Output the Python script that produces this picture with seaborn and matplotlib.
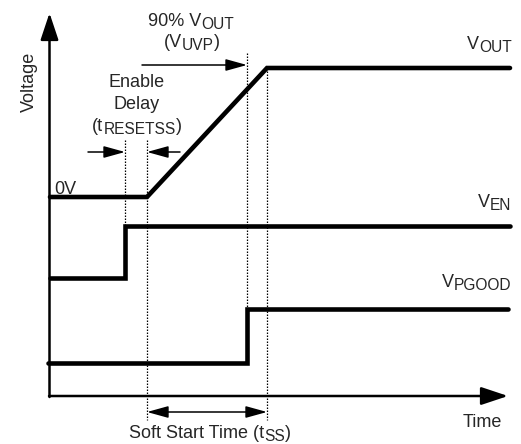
#Soft start timing diagram
#Recreates the VOUT / VEN / VPGOOD start-up sequence.

import matplotlib
matplotlib.use("Agg")
import matplotlib.pyplot as plt
import seaborn as sns

# Time marks (picture units, left to right)
t_start = 50
t_enable = 125
t_ramp = 147
t_pgood = 247
t_end_ramp = 267
t_stop = 510

# Signal levels (picture units, top = 0)
vout_time = [t_start, t_ramp, t_end_ramp, t_stop]
vout_level = [197, 197, 68, 68]
ven_time = [t_start, t_enable, t_enable, t_stop]
ven_level = [278, 278, 226, 226]
pgood_time = [48, t_pgood, t_pgood, 508]
pgood_level = [363, 363, 309, 309]

# Dotted guide lines: x, top, bottom
guide_x = [t_enable, t_ramp, t_pgood, t_end_ramp]
guide_top = [140, 140, 53, 68]
guide_bottom = [226, 420, 309, 420]

sns.set_style("white")
plt.rcParams['font.family'] = ['Liberation Sans', 'DejaVu Sans']

fig = plt.figure(figsize=(5.21, 4.44), dpi=100)
ax = fig.add_axes([0, 0, 1, 1])
ax.set_xlim(0, 521)
ax.set_ylim(444, 0)
ax.axis('off')

# Signals
for tt, vv in [(vout_time, vout_level), (ven_time, ven_level), (pgood_time, pgood_level)]:
    sns.lineplot(x=tt, y=vv, sort=False, estimator=None, color='black', linewidth=3.3,
                 solid_joinstyle='miter', solid_capstyle='round', ax=ax)

# Dotted guides
for gx, gt, gb in zip(guide_x, guide_top, guide_bottom):
    ax.plot([gx, gx], [gt, gb], color='black', linewidth=0.9, linestyle=(0, (1.2, 1.2)))

# Axes with arrowheads
axis_arrow = dict(arrowstyle='-|>,head_length=1.65,head_width=0.55', color='black',
                  linewidth=1.8, shrinkA=0, shrinkB=0)
ax.annotate('', xy=(49.5, 13), xytext=(49.5, 397), arrowprops=axis_arrow)
ax.annotate('', xy=(508, 396), xytext=(49, 396), arrowprops=axis_arrow)

# Dimension arrows
dim_arrow = dict(arrowstyle='-|>,head_length=1.3,head_width=0.36', color='black',
                 linewidth=1.1, shrinkA=0, shrinkB=0)
ax.annotate('', xy=(t_enable, 152), xytext=(88, 152), arrowprops=dim_arrow)
ax.annotate('', xy=(t_ramp, 152), xytext=(180, 152), arrowprops=dim_arrow)
ax.annotate('', xy=(t_pgood, 65), xytext=(142, 65), arrowprops=dim_arrow)
ax.annotate('', xy=(t_end_ramp, 412), xytext=(t_ramp, 412),
            arrowprops=dict(arrowstyle='<|-|>,head_length=1.3,head_width=0.36', color='black',
                            linewidth=1.1, shrinkA=0, shrinkB=0))

fs = 13
renderer = fig.canvas.get_renderer()


# text with lowered, slightly smaller subscripts; 1 data unit = 1 pixel here
def rich_text(x, y, parts, ha='center'):
    pieces = []
    for s, sub in parts:
        t = ax.text(0, y + (3 if sub else 0), s, fontsize=fs * (0.86 if sub else 1.0),
                    ha='left', va='baseline')
        pieces.append((t, t.get_window_extent(renderer).width))
    total = sum(w for _, w in pieces)
    if ha == 'center':
        x0 = x - total / 2
    elif ha == 'right':
        x0 = x - total
    else:
        x0 = x
    for t, w in pieces:
        t.set_x(x0)
        x0 += w


rich_text(191, 26, [('90% V', False), ('OUT', True)])
rich_text(192, 47, [('(V', False), ('UVP', True), (')', False)])
rich_text(137, 87, [('Enable', False)])
rich_text(137, 109, [('Delay', False)])
rich_text(137, 131, [('(t', False), ('RESETSS', True), (')', False)])
rich_text(54, 194, [('0V', False)], ha='left')
rich_text(512, 49, [('V', False), ('OUT', True)], ha='right')
rich_text(511, 207, [('V', False), ('EN', True)], ha='right')
rich_text(511, 287, [('V', False), ('PGOOD', True)], ha='right')
rich_text(502, 427, [('Time', False)], ha='right')
rich_text(210, 438, [('Soft Start Time (t', False), ('SS', True), (')', False)])
ax.text(29, 82, 'Voltage', fontsize=fs, ha='center', va='center', rotation=90)

fig.savefig('out.png', dpi=100)
